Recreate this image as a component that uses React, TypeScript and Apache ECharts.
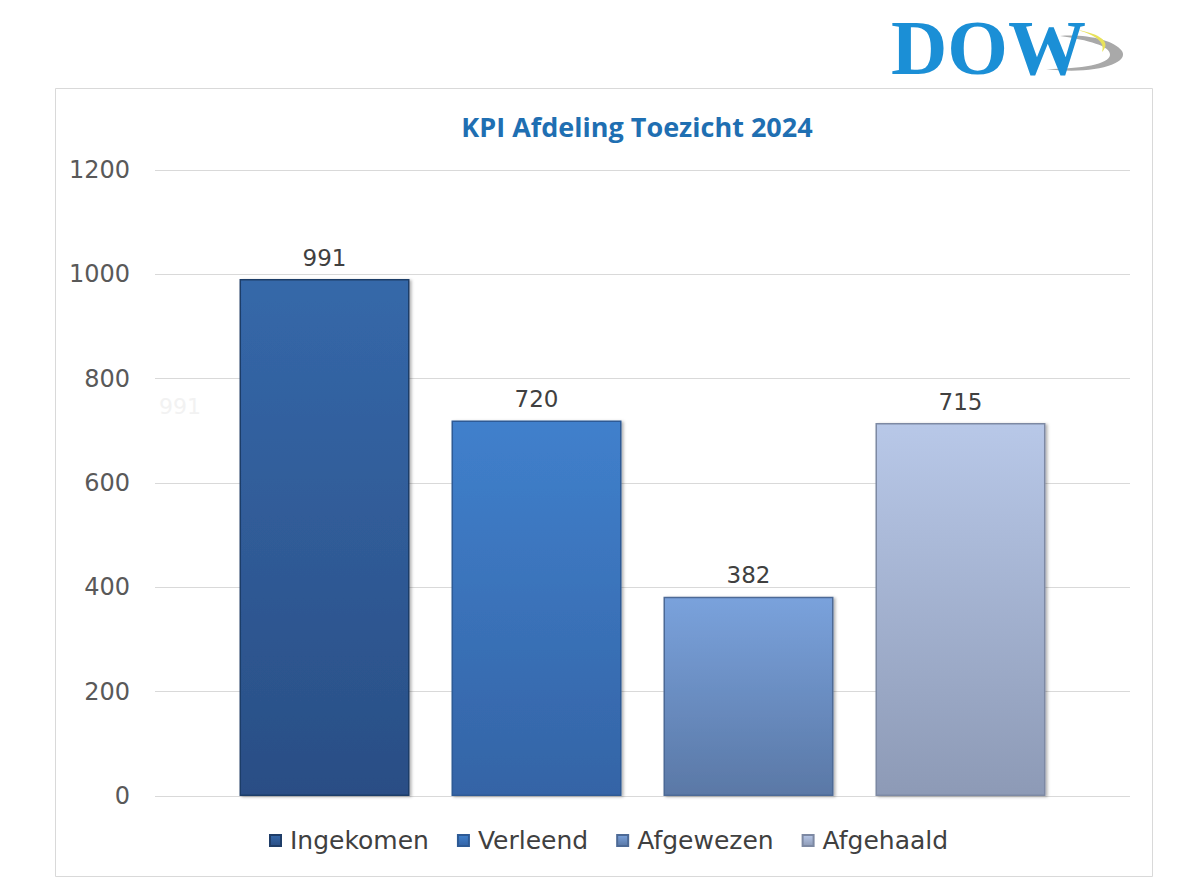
import React, { useEffect, useRef } from "react";
import * as echarts from "echarts";

const title = "KPI Afdeling Toezicht 2024";
const seriesNames = ["Ingekomen", "Verleend", "Afgewezen", "Afgehaald"];
const seriesValues = [991, 720, 382, 715];
const yTicks = { min: 0, max: 1200, interval: 200 };
const ghostLabel = "991";

const topColors = ["#3568a9", "#4080cc", "#7aa2dc", "#b8c8e8"];
const bottomColors = ["#2a4e85", "#3464a6", "#5a78a6", "#8d9ab6"];
const borderColors = ["#1f3d68", "#2d5a95", "#4d6a96", "#7d89a3"];

const swooshGrey =
  "M0,36 C46,42 84,31 76,18 C68,7 40,1 14,3 C42,7 65,13 64,22 C63,31 36,36 0,36 Z";
const swooshYellow = "M18,1 C40,5 52,13 42,23 C45,14 38,7 18,1 Z";

let registered = false;
function registerShapes() {
  if (registered) return;
  registered = true;
  echarts.graphic.registerShape("swooshGrey", echarts.graphic.extendPath(swooshGrey, {}) as any);
  echarts.graphic.registerShape("swooshYellow", echarts.graphic.extendPath(swooshYellow, {}) as any);
}

export default function App() {
  const ref = useRef<HTMLDivElement>(null);
  useEffect(() => {
    document.body.style.margin = "0";
    registerShapes();
    const chart = echarts.init(ref.current!, null, { renderer: "svg" });
    const series = seriesNames.map((name, i) => ({
      name,
      type: "bar",
      data: [seriesValues[i]],
      barWidth: 170,
      barGap: "24.7%",
      itemStyle: {
        color: new echarts.graphic.LinearGradient(0, 0, 0, 1, [
          { offset: 0, color: topColors[i] },
          { offset: 1, color: bottomColors[i] },
        ]),
        borderColor: borderColors[i],
        borderWidth: 1.5,
        shadowBlur: 3,
        shadowOffsetX: 2,
        shadowOffsetY: 1,
        shadowColor: "rgba(0,0,0,0.3)",
      },
      label: {
        show: true,
        position: "top",
        distance: 10,
        color: "#404040",
        fontFamily: "DejaVu Sans",
        fontSize: 23,
      },
    }));
    chart.setOption({
      animation: false,
      backgroundColor: "#ffffff",
      title: {
        text: title,
        left: 632,
        textAlign: "center",
        top: 108,
        textStyle: {
          fontFamily: "Open Sans",
          fontWeight: "bold",
          fontSize: 27,
          color: "#1f6fb2",
        },
      },
      grid: { left: 155, right: 70, top: 170, bottom: 96 },
      xAxis: {
        type: "category",
        data: [""],
        axisLine: { show: false },
        axisTick: { show: false },
        axisLabel: { show: false },
      },
      yAxis: {
        type: "value",
        min: yTicks.min,
        max: yTicks.max,
        interval: yTicks.interval,
        axisLine: { show: false },
        axisTick: { show: false },
        splitLine: { lineStyle: { color: "#d9d9d9", width: 1 } },
        axisLabel: {
          margin: 25,
          color: "#595959",
          fontFamily: "DejaVu Sans",
          fontSize: 24,
          formatter: (v: number) => String(v),
        },
      },
      legend: {
        data: seriesNames,
        bottom: 34,
        left: 264,
        icon: "rect",
        itemWidth: 11,
        itemHeight: 11,
        itemGap: 28,
        textStyle: {
          color: "#404040",
          fontFamily: "DejaVu Sans",
          fontSize: 25,
          padding: [0, 0, 0, 4],
        },
      },
      graphic: [
        {
          type: "rect",
          z: -10,
          shape: { x: 55.5, y: 88.5, width: 1097, height: 788 },
          style: { fill: "#ffffff", stroke: "#d9d9d9", lineWidth: 1 },
          silent: true,
        },
        {
          type: "text",
          x: 180,
          y: 406,
          style: {
            text: ghostLabel,
            fill: "#f2f2f2",
            font: "22px 'DejaVu Sans'",
            align: "center",
            verticalAlign: "middle",
          },
          silent: true,
        },
        {
          type: "swooshGrey",
          x: 1046,
          y: 33,
          style: { fill: "#a9a9a9" },
          silent: true,
        },
        {
          type: "swooshYellow",
          x: 1060,
          y: 29,
          style: { fill: "#e8e25a" },
          silent: true,
        },
        {
          type: "text",
          x: 891,
          y: 47,
          style: {
            text: "DOW",
            fill: "#1b8fd6",
            font: "bold 78px 'Liberation Serif'",
            align: "left",
            verticalAlign: "middle",
          },
          silent: true,
        },
      ],
      series,
    });
    return () => chart.dispose();
  }, []);
  return <div ref={ref} style={{ width: 1200, height: 892 }} />;
}
